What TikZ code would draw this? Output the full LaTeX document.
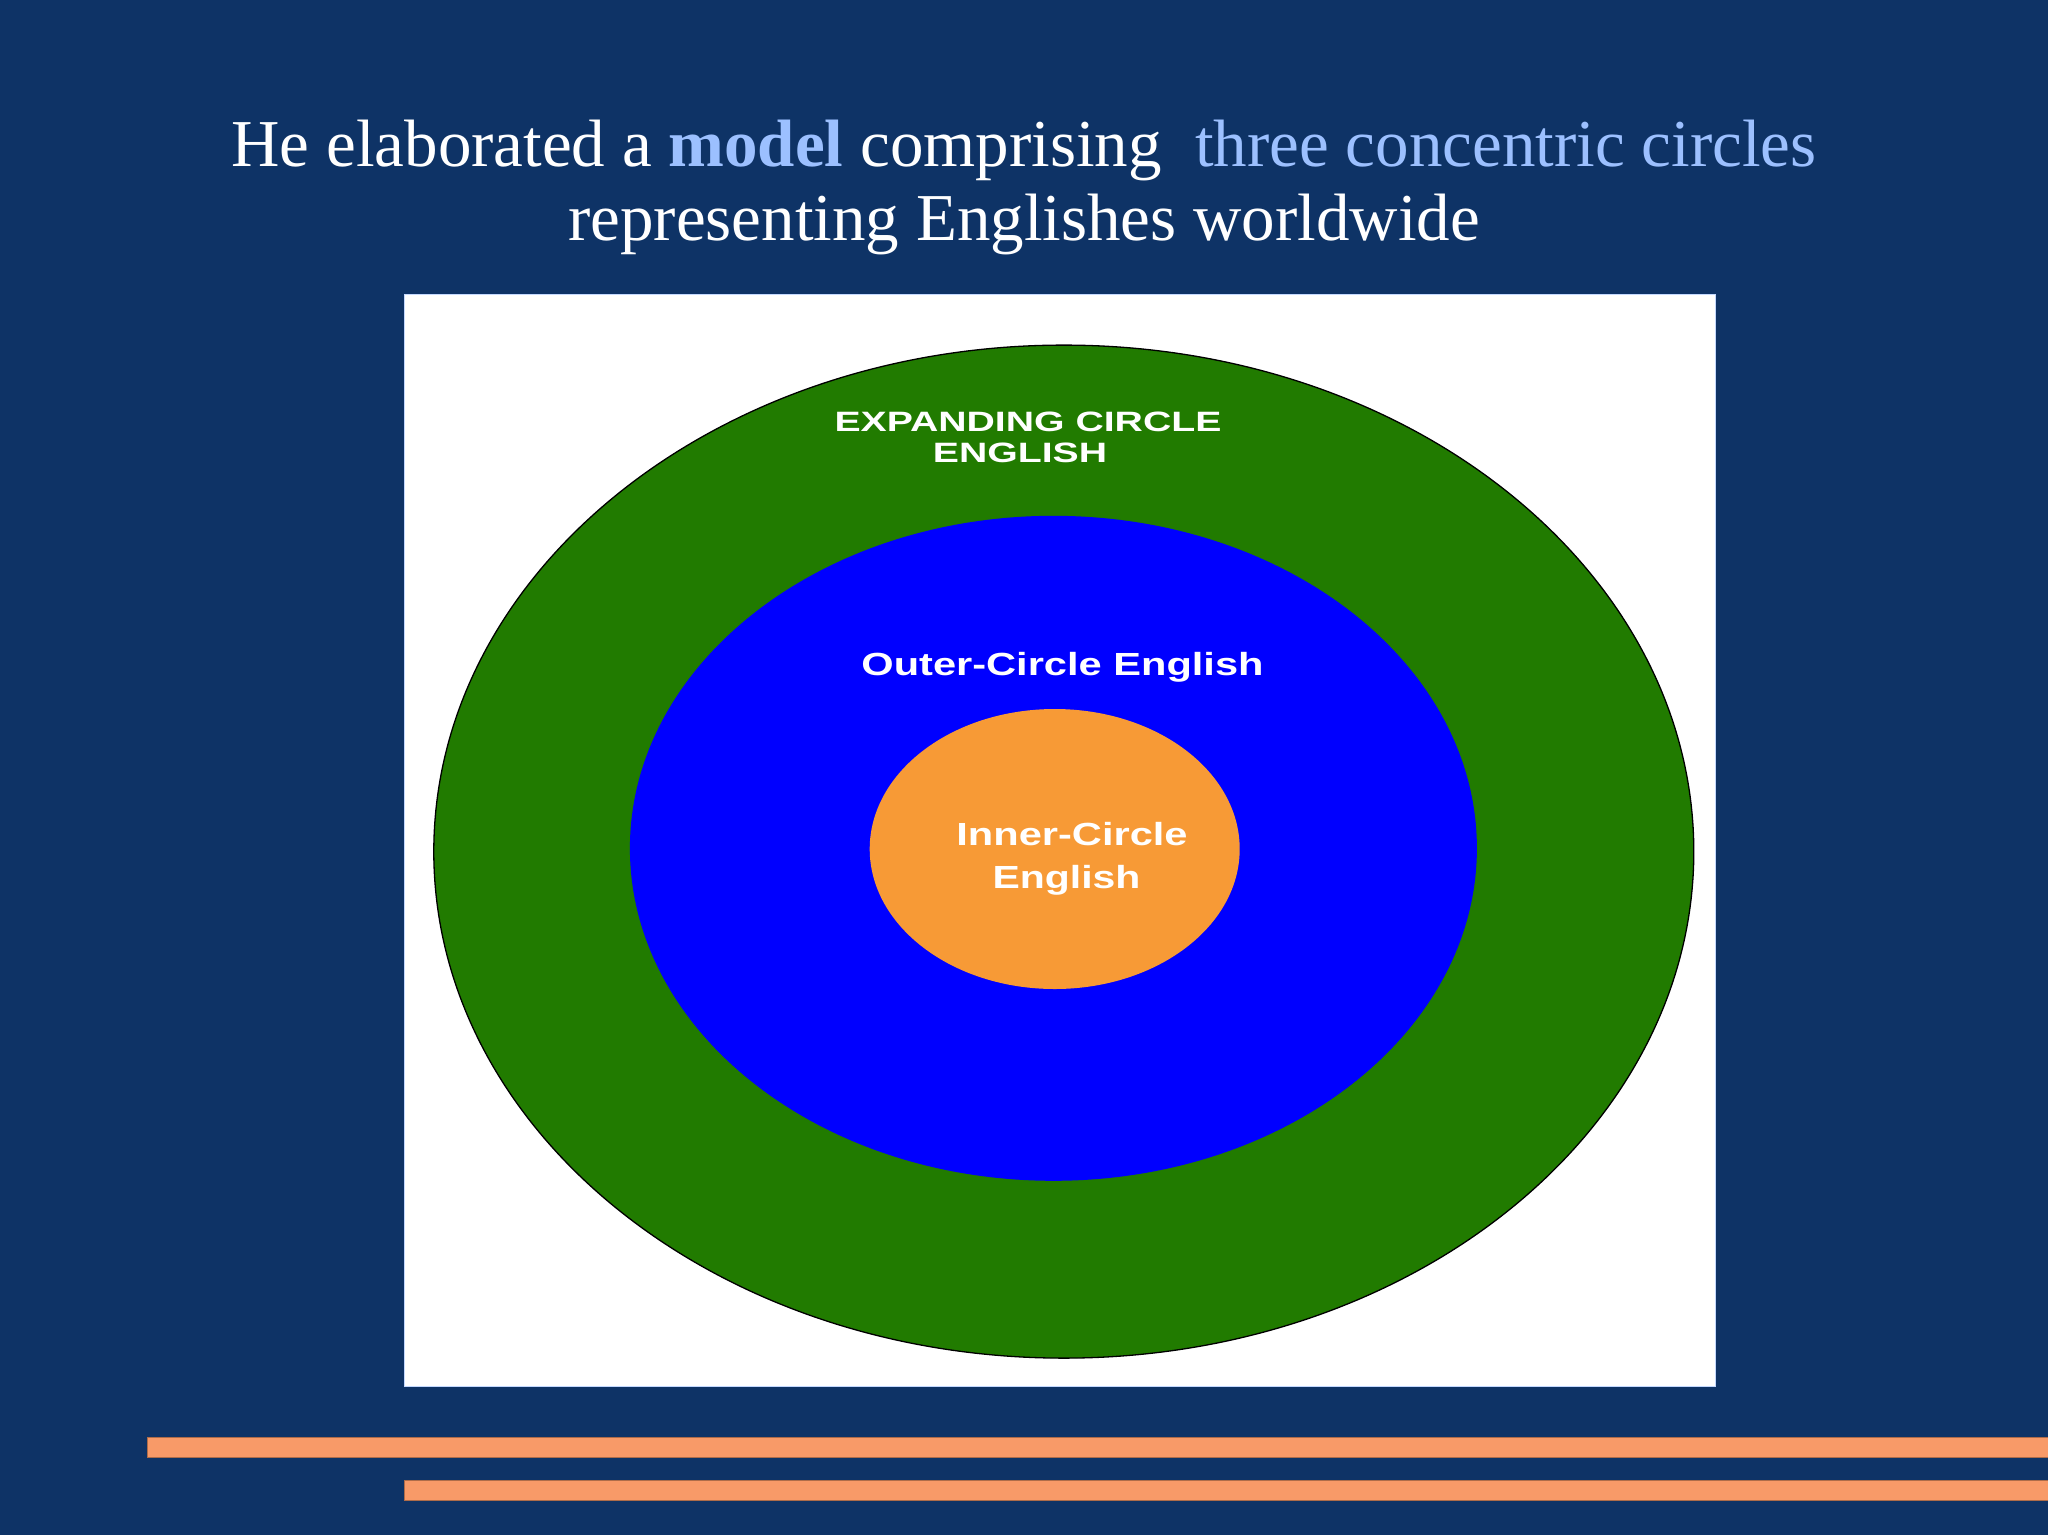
\documentclass[tikz,border=0pt]{standalone}
\usepackage{fontspec}
\setmainfont{Liberation Serif}
\newfontfamily\labelfont{Liberation Sans}
\usetikzlibrary{shapes.geometric}
\definecolor{navy}{HTML}{0E3366}
\definecolor{lightblue}{HTML}{9CC0FF}
\definecolor{ringgreen}{HTML}{217B00}
\definecolor{ringblue}{HTML}{0000FF}
\definecolor{ringorange}{HTML}{F79A36}
\definecolor{barorange}{HTML}{F89A68}
\tikzset{
  ring/.style={ellipse, inner sep=0pt, outer sep=0pt},
  bar/.style={fill=barorange, draw=barorange!70!black, line width=0.8pt},
  ringlabel/.style={text=white, align=center, anchor=base, inner sep=0pt},
}
\begin{document}
\begin{tikzpicture}[x=1pt,y=-1pt]
\fill[navy] (0,0) rectangle (2048,1535);
\useasboundingbox (0,0) rectangle (2048,1535);
% title
\node[anchor=base, text=white, font=\fontsize{67}{74}\selectfont, inner sep=0pt] (t1) at (1024,166)
  {He elaborated a {\bfseries\color{lightblue}model} comprising\ \ {\color{lightblue}three concentric circles}};
\node[anchor=base, text=white, font=\fontsize{67}{74}\selectfont, inner sep=0pt] (t2) at (1024,240)
  {representing Englishes worldwide};
% white panel
\node[fill=white, draw=lightblue!60, line width=0.8pt, minimum width=1311pt, minimum height=1092pt, inner sep=0pt, anchor=north west] (panel) at (403.6,293.9) {};
% rings
\node[ring, fill=ringgreen, draw=black, line width=1.3pt, minimum width=1260pt, minimum height=1013pt] (outer) at (1063.8,851.6) {};
\node[ring, fill=ringblue, minimum width=847pt, minimum height=665pt] (middle) at (1053.4,848.3) {};
\node[ring, fill=ringorange, minimum width=370pt, minimum height=280pt] (inner) at (1054.7,849) {};
% labels
\node[ringlabel, font=\labelfont\bfseries\fontsize{28}{31}\selectfont] (exp1) at (1028,431.7) {\scalebox{1.4}[1]{EXPANDING CIRCLE}};
\node[ringlabel, font=\labelfont\bfseries\fontsize{28}{31}\selectfont] (exp2) at (1020,462.7) {\scalebox{1.4}[1]{ENGLISH}};
\node[ringlabel, font=\labelfont\bfseries\fontsize{32}{36}\selectfont] (outl) at (1062.5,675) {\scalebox{1.3}[1]{Outer-Circle English}};
\node[ringlabel, font=\labelfont\bfseries\fontsize{32}{36}\selectfont] (in1) at (1072,845) {\scalebox{1.3}[1]{Inner-Circle}};
\node[ringlabel, font=\labelfont\bfseries\fontsize{32}{36}\selectfont] (in2) at (1066.5,888) {\scalebox{1.28}[1]{English}};
% bars
\node[bar, anchor=north west, minimum width=1905pt, minimum height=20pt, inner sep=0pt] (bar1) at (147,1437) {};
\node[bar, anchor=north west, minimum width=1648pt, minimum height=20pt, inner sep=0pt] (bar2) at (403.6,1480) {};
\end{tikzpicture}
\end{document}
